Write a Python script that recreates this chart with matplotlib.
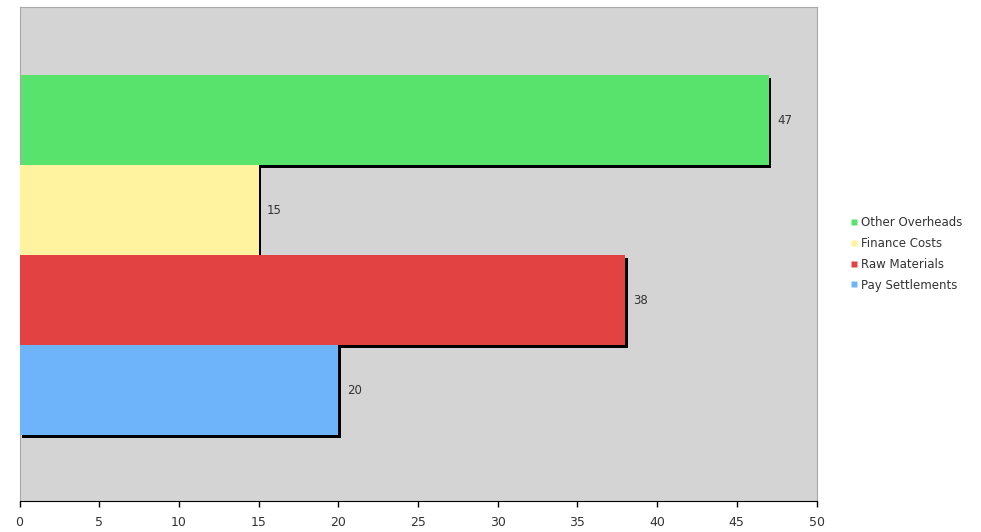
import matplotlib
matplotlib.use('Agg')
import matplotlib.pyplot as plt
from matplotlib import patheffects
from matplotlib.lines import Line2D

categories = ['Other Overheads', 'Finance Costs', 'Raw Materials', 'Pay Settlements']
values = [47, 15, 38, 20]
colors = ['#58e46c', '#fff3a0', '#e34242', '#6eb4fa']
xticks = [0, 5, 10, 15, 20, 25, 30, 35, 40, 45, 50]

offgray = '#333333'

fig = plt.figure(figsize=(9.81, 5.32), dpi=100)
ax = fig.add_axes([19.5/981, 31/532, 797/981, 494/532])
ax.set_facecolor('#d4d4d4')

n = len(categories)
shadow = [patheffects.SimplePatchShadow(offset=(2.0, -2.0), shadow_rgbFace='black', alpha=1.0),
          patheffects.Normal()]
for i, (cat, val, col) in enumerate(zip(categories, values, colors)):
    y = n - 1 - i
    bar = ax.barh(y, val, height=1.0, color=col, edgecolor='none', zorder=2 + i)
    for p in bar.patches:
        p.set_path_effects(shadow)
    ax.annotate(str(val), (val, y), xytext=(6, 0), textcoords='offset points',
                ha='left', va='center', fontsize=8.5, color=offgray)

ax.set_xlim(0, 50)
ax.set_ylim(-0.5 - 66/90, n - 0.5 + 68/90)
ax.set_xticks(xticks)
ax.set_yticks([])
ax.tick_params(axis='x', direction='out', length=4, width=1, color='black',
               labelsize=9, labelcolor=offgray, pad=7)
for s in ['top', 'right', 'left']:
    ax.spines[s].set_color('#a8a8a8')
ax.spines['bottom'].set_color('black')

handles = [Line2D([], [], marker='s', linestyle='none', markersize=5,
                  markerfacecolor=c, markeredgecolor='none') for c in colors]
fig.legend(handles, categories, loc='center left', bbox_to_anchor=(840/981, 1 - 254/532),
           frameon=False, fontsize=8.5, handlelength=0.6, handletextpad=0.3,
           labelspacing=0.65, labelcolor=offgray)

fig.savefig('out.png', dpi=100, facecolor='white')
